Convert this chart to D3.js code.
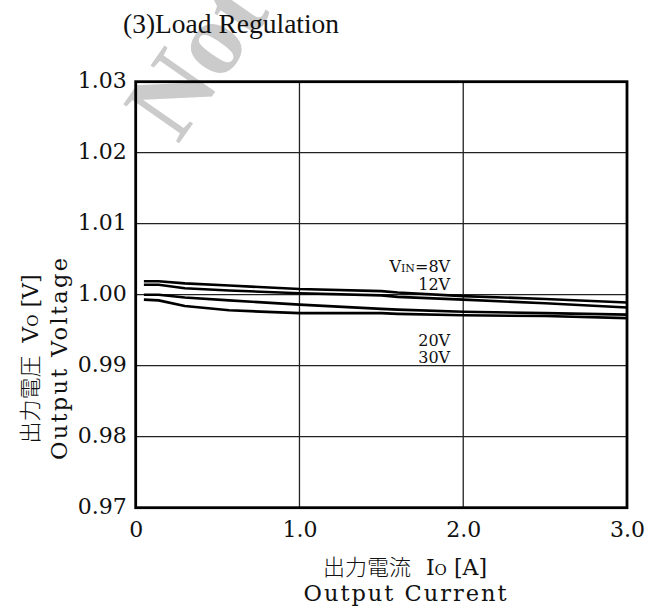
<!DOCTYPE html>
<html>
<head>
<meta charset="utf-8">
<script src="https://cdn.jsdelivr.net/npm/d3@7"></script>
<style>
  html, body { margin: 0; padding: 0; background: #fff; }
  svg { display: block; }
</style>
</head>
<body>
<svg id="chart" width="659" height="607"></svg>
<script>
// Output current [A] at each measured point
const current = [0.05, 0.14, 0.30, 0.57, 1.0, 1.5, 1.6, 2.0, 2.5, 3.0];

// Output voltage [V] for each input voltage
const vin8  = [1.0019, 1.0019, 1.0016, 1.0013, 1.0008, 1.0005, 1.0003, 0.9998, 0.9994, 0.9989];
const vin12 = [1.0014, 1.0014, 1.0009, 1.0006, 1.0002, 0.9999, 0.9997, 0.9993, 0.9988, 0.9982];
const vin20 = [1.0000, 1.0000, 0.9996, 0.9992, 0.9986, 0.9980, 0.9979, 0.9976, 0.9974, 0.9972];
const vin30 = [0.9993, 0.9992, 0.9984, 0.9978, 0.9974, 0.9974, 0.9973, 0.9971, 0.9970, 0.9967];

const seriesValues = [vin8, vin12, vin20, vin30];
const seriesNames = ["8V", "12V", "20V", "30V"];
// Annotation anchors in data units (current, voltage)
const labelCurrent = [1.92, 1.92, 1.92, 1.92];
const labelVoltage = [1.00324, 1.00066, 0.99277, 0.99034];

const xTicks = [0, 1, 2, 3];
const xTickLabels = ["0", "1.0", "2.0", "3.0"];
const yTicks = [0.97, 0.98, 0.99, 1.00, 1.01, 1.02, 1.03];
const yTickLabels = ["0.97", "0.98", "0.99", "1.00", "1.01", "1.02", "1.03"];

const svg = d3.select("#chart");
const plotL = 135.7, plotR = 627, plotT = 81.7, plotB = 507.7;

const x = d3.scaleLinear().domain([0, 3]).range([plotL, plotR]);
const y = d3.scaleLinear().domain([0.97, 1.03]).range([plotB, plotT]);

const serif = "'DejaVu Serif', serif";
const cjk = "'Noto Sans CJK JP', sans-serif";

// Faint watermark behind the chart
svg.append("text")
  .attr("transform", "translate(178,145) rotate(-55)")
  .attr("font-family", "'Liberation Serif', serif")
  .attr("font-weight", "bold")
  .attr("font-size", 104)
  .attr("fill", "#cbcbcb")
  .text("Not");

// Title
svg.append("text")
  .attr("x", 123).attr("y", 33)
  .attr("font-family", "'Liberation Serif', serif")
  .attr("font-size", 27.5)
  .attr("fill", "#111")
  .text("(3)Load Regulation");

// Grid
const grid = svg.append("g").attr("stroke", "#222").attr("stroke-width", 1.3);
grid.selectAll("line.gx")
  .data(xTicks.slice(1, -1))
  .join("line")
  .attr("x1", d => x(d)).attr("x2", d => x(d))
  .attr("y1", plotT).attr("y2", plotB);
grid.selectAll("line.gy")
  .data(yTicks.slice(1, -1))
  .join("line")
  .attr("x1", plotL).attr("x2", plotR)
  .attr("y1", d => y(d)).attr("y2", d => y(d));

// Curves
const line = d3.line()
  .x((d, i) => x(current[i]))
  .y(d => y(d));
svg.append("g")
  .selectAll("path")
  .data(seriesValues)
  .join("path")
  .attr("d", d => line(d))
  .attr("fill", "none")
  .attr("stroke", "#000")
  .attr("stroke-width", 2.6)
  .attr("stroke-linejoin", "round");

// Frame
svg.append("rect")
  .attr("x", plotL).attr("y", plotT)
  .attr("width", plotR - plotL).attr("height", plotB - plotT)
  .attr("fill", "none")
  .attr("stroke", "#000")
  .attr("stroke-width", 2.8);

// Tick labels
const xAxis = d3.axisBottom(x).tickValues(xTicks)
  .tickFormat((d, i) => xTickLabels[i]).tickSize(0).tickPadding(0);
const gx = svg.append("g").attr("transform", `translate(0,${plotB})`).call(xAxis);
gx.select(".domain").remove();
gx.selectAll("text")
  .attr("dy", null).attr("y", 29)
  .attr("font-family", serif).attr("font-size", 22).attr("fill", "#111");

const yAxis = d3.axisLeft(y).tickValues(yTicks)
  .tickFormat((d, i) => yTickLabels[i]).tickSize(0).tickPadding(9);
const gy = svg.append("g").attr("transform", `translate(${plotL},0)`).call(yAxis);
gy.select(".domain").remove();
gy.selectAll("text")
  .attr("dy", "0.27em")
  .attr("font-family", serif).attr("font-size", 22).attr("fill", "#111");

// Series annotations
const lab = svg.append("g")
  .attr("font-family", serif).attr("font-size", 16).attr("fill", "#111")
  .attr("text-anchor", "end");
seriesNames.forEach((name, i) => {
  const t = lab.append("text")
    .attr("x", x(labelCurrent[i])).attr("y", y(labelVoltage[i]));
  if (i === 0) {
    t.append("tspan").text("V");
    t.append("tspan").attr("font-size", 11).text("IN");
    t.append("tspan").text("=" + name);
  } else {
    t.text(name);
  }
});

// X axis title
const xt = svg.append("g").attr("fill", "#111").attr("text-anchor", "middle");
const xt1 = xt.append("text").attr("x", 405).attr("y", 575);
xt1.append("tspan").attr("font-family", cjk).attr("font-size", 22).attr("font-weight", 300).text("出力電流 ");
xt1.append("tspan").attr("font-family", serif).attr("font-size", 22).attr("dx", 10).text("I");
xt1.append("tspan").attr("font-family", serif).attr("font-size", 15).text("O");
xt1.append("tspan").attr("font-family", serif).attr("font-size", 22).text(" [A]");
xt.append("text").attr("x", 405).attr("y", 601)
  .attr("font-family", serif).attr("font-size", 22.5)
  .attr("textLength", 203).attr("lengthAdjust", "spacing")
  .text("Output Current");

// Y axis title
const yt = svg.append("g").attr("fill", "#111").attr("text-anchor", "middle")
  .attr("transform", "translate(0,359) rotate(-90)");
const yt1 = yt.append("text").attr("x", 0).attr("y", 38);
yt1.append("tspan").attr("font-family", cjk).attr("font-size", 22).attr("font-weight", 300).text("出力電圧 ");
yt1.append("tspan").attr("font-family", serif).attr("font-size", 22).attr("dx", 8).text("V");
yt1.append("tspan").attr("font-family", serif).attr("font-size", 15).text("O");
yt1.append("tspan").attr("font-family", serif).attr("font-size", 22).text(" [V]");
yt.append("text").attr("x", 0).attr("y", 67)
  .attr("font-family", serif).attr("font-size", 22.5)
  .attr("textLength", 202).attr("lengthAdjust", "spacing")
  .text("Output Voltage");
</script>
</body>
</html>
